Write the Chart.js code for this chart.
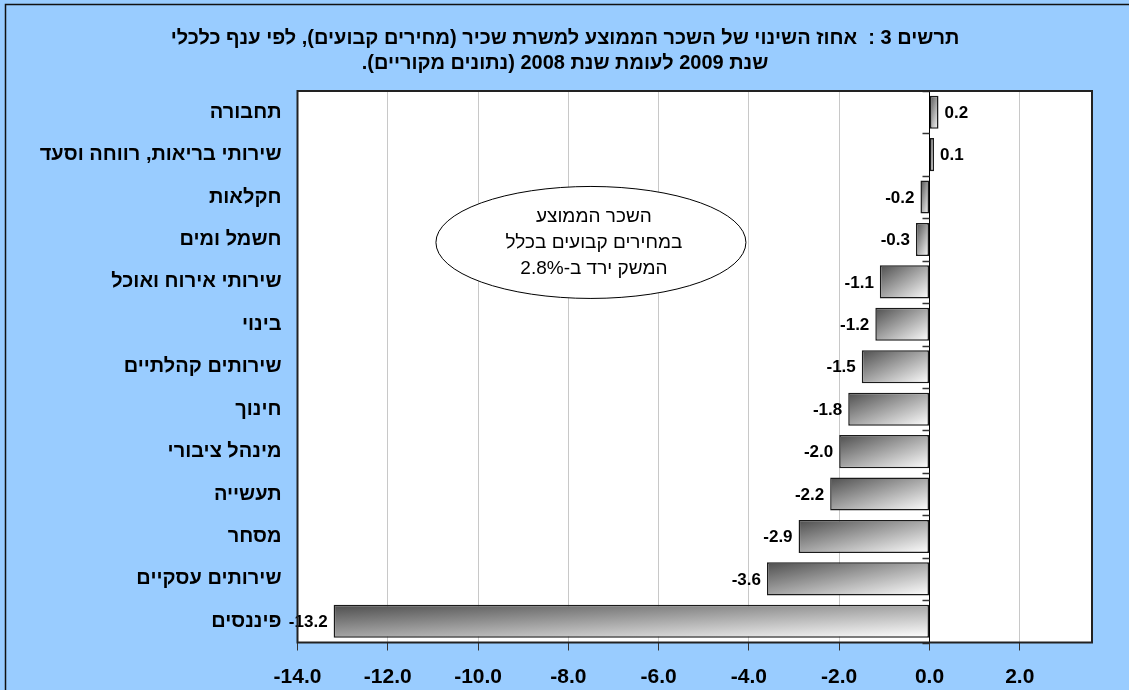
<!DOCTYPE html>
<html lang="he">
<head>
    <meta charset="UTF-8">
    <title>אחוז השינוי של השכר הממוצע</title>
    <style>
        body {
            margin: 0;
            padding: 0;
            background: #99ccff;
        }
        #wrap {
            position: relative;
            width: 1129px;
            height: 690px;
        }
    </style>
    <script src="https://cdn.jsdelivr.net/npm/chart.js"></script>
</head>
<body>

<div id="wrap"><canvas id="chart"></canvas></div>

<script>
    const categories = [
        "תחבורה", "שירותי בריאות, רווחה וסעד", "חקלאות", "חשמל ומים", "שירותי אירוח ואוכל",
        "בינוי", "שירותים קהלתיים", "חינוך", "מינהל ציבורי", "תעשייה",
        "מסחר", "שירותים עסקיים", "פיננסים"
    ];
    const changes = [0.2, 0.1, -0.2, -0.3, -1.1, -1.2, -1.5, -1.8, -2.0, -2.2, -2.9, -3.6, -13.2];
    const xTicks = [-14, -12, -10, -8, -6, -4, -2, 0, 2];

    const titleLines = [
        "תרשים 3 :  אחוז השינוי של השכר הממוצע למשרת שכיר (מחירים קבועים), לפי ענף כלכלי",
        "שנת 2009 לעומת שנת 2008 (נתונים מקוריים).\u200F"
    ];
    const noteLines = ["השכר הממוצע", "במחירים קבועים בכלל", "המשק ירד ב-2.8%"];

    const FONT = "Arial, 'Liberation Sans', sans-serif";
    const BAR_PCT = 0.78;

    // gradient dark top-left -> light bottom-right, fitted to each bar
    function barGradient(c) {
        const chart = c.chart;
        if (!chart.chartArea || c.type !== 'data') return '#999';
        const xs = chart.scales.x, ys = chart.scales.y;
        const v = c.raw;
        const left = xs.getPixelForValue(Math.min(v, 0));
        const right = xs.getPixelForValue(Math.max(v, 0));
        const band = (chart.chartArea.bottom - chart.chartArea.top) / categories.length;
        const h = band * BAR_PCT;
        const top = ys.getPixelForValue(c.dataIndex) - h / 2;
        const w = Math.max(right - left, 1);
        const k = 2 / (1 / (w * w) + 1 / (h * h));
        const g = chart.ctx.createLinearGradient(left, top, left + k / w, top + k / h);
        g.addColorStop(0, '#4e4e4e');
        g.addColorStop(1, '#ffffff');
        return g;
    }

    const backdrop = {
        id: 'backdrop',
        beforeDraw(chart) {
            const ctx = chart.ctx, a = chart.chartArea;
            ctx.save();
            ctx.fillStyle = '#99ccff';
            ctx.fillRect(0, 0, chart.width, chart.height);
            ctx.strokeStyle = '#111';
            ctx.lineWidth = 1.5;
            ctx.strokeRect(5.5, 4.5, chart.width + 20, chart.height + 20);
            ctx.fillStyle = '#ffffff';
            ctx.fillRect(a.left, a.top, a.right - a.left, a.bottom - a.top);
            ctx.restore();
        },
        afterDatasetsDraw(chart) {
            const ctx = chart.ctx;
            const xs = chart.scales.x, ys = chart.scales.y;
            ctx.save();
            // small ticks on the zero axis
            const x0 = xs.getPixelForValue(0);
            ctx.strokeStyle = '#333';
            ctx.lineWidth = 1.5;
            for (let i = 0; i <= categories.length; i++) {
                const y = Math.round(ys.getPixelForValue(i - 0.5)) + 0.5;
                ctx.beginPath();
                ctx.moveTo(x0 - 7, y);
                ctx.lineTo(x0, y);
                ctx.stroke();
            }
            // value labels
            ctx.font = 'bold 17px ' + FONT;
            ctx.fillStyle = '#000';
            ctx.textBaseline = 'middle';
            chart.getDatasetMeta(0).data.forEach((bar, i) => {
                const v = changes[i];
                ctx.textAlign = v < 0 ? 'right' : 'left';
                ctx.fillText(v.toFixed(1), bar.x + (v < 0 ? -6 : 6), bar.y + 1);
            });
            // note ellipse
            const cx = xs.getPixelForValue(-7.5);
            const cy = ys.getPixelForValue(3.07);
            ctx.beginPath();
            ctx.ellipse(cx, cy, 155, 56, 0, 0, Math.PI * 2);
            ctx.fillStyle = '#fff';
            ctx.fill();
            ctx.strokeStyle = '#000';
            ctx.lineWidth = 1;
            ctx.stroke();
            ctx.fillStyle = '#000';
            ctx.font = '19px ' + FONT;
            ctx.textAlign = 'center';
            ctx.direction = 'rtl';
            noteLines.forEach((t, i) => ctx.fillText(t, cx + 3, cy + (i - 1) * 26));
            ctx.restore();
        },
        afterDraw(chart) {
            const ctx = chart.ctx, a = chart.chartArea;
            ctx.save();
            ctx.strokeStyle = '#222';
            ctx.lineWidth = 2;
            ctx.strokeRect(a.left, a.top, a.right - a.left, a.bottom - a.top);
            ctx.restore();
        }
    };

    new Chart(document.getElementById('chart'), {
        type: 'bar',
        data: {
            labels: categories,
            datasets: [{
                data: changes,
                backgroundColor: barGradient,
                borderColor: '#1a1a1a',
                borderWidth: 1.5,
                borderSkipped: false,
                barPercentage: BAR_PCT,
                categoryPercentage: 1
            }]
        },
        options: {
            indexAxis: 'y',
            responsive: true,
            maintainAspectRatio: false,
            animation: false,
            layout: { padding: { left: 38, right: 37, top: 0, bottom: 0 } },
            plugins: {
                legend: { display: false },
                tooltip: { enabled: false },
                title: {
                    display: true,
                    text: titleLines,
                    color: '#000',
                    font: { family: FONT, size: 20, weight: 'bold', lineHeight: 1.25 },
                    padding: { top: 26, bottom: 15 }
                }
            },
            scales: {
                x: {
                    min: -14,
                    max: 3.6,
                    afterBuildTicks: s => { s.ticks = xTicks.map(v => ({ value: v })); },
                    afterFit: s => { s.height = 47.5; },
                    grid: {
                        color: c => (c.tick && c.tick.value === 0) ? '#000' : '#c8c8c8',
                        tickColor: '#333',
                        tickLength: 8,
                        lineWidth: 1
                    },
                    border: { display: false },
                    ticks: {
                        color: '#000',
                        padding: 14,
                        font: { family: FONT, size: 21, weight: 'bold' },
                        callback: v => Number(v).toFixed(1)
                    }
                },
                y: {
                    afterFit: s => { s.width = 297.5 - 38; },
                    grid: { display: false, drawTicks: false },
                    border: { display: false },
                    ticks: {
                        color: '#000',
                        padding: 16,
                        font: { family: FONT, size: 20, weight: 'bold' }
                    }
                }
            }
        },
        plugins: [backdrop]
    });
</script>

</body>
</html>
